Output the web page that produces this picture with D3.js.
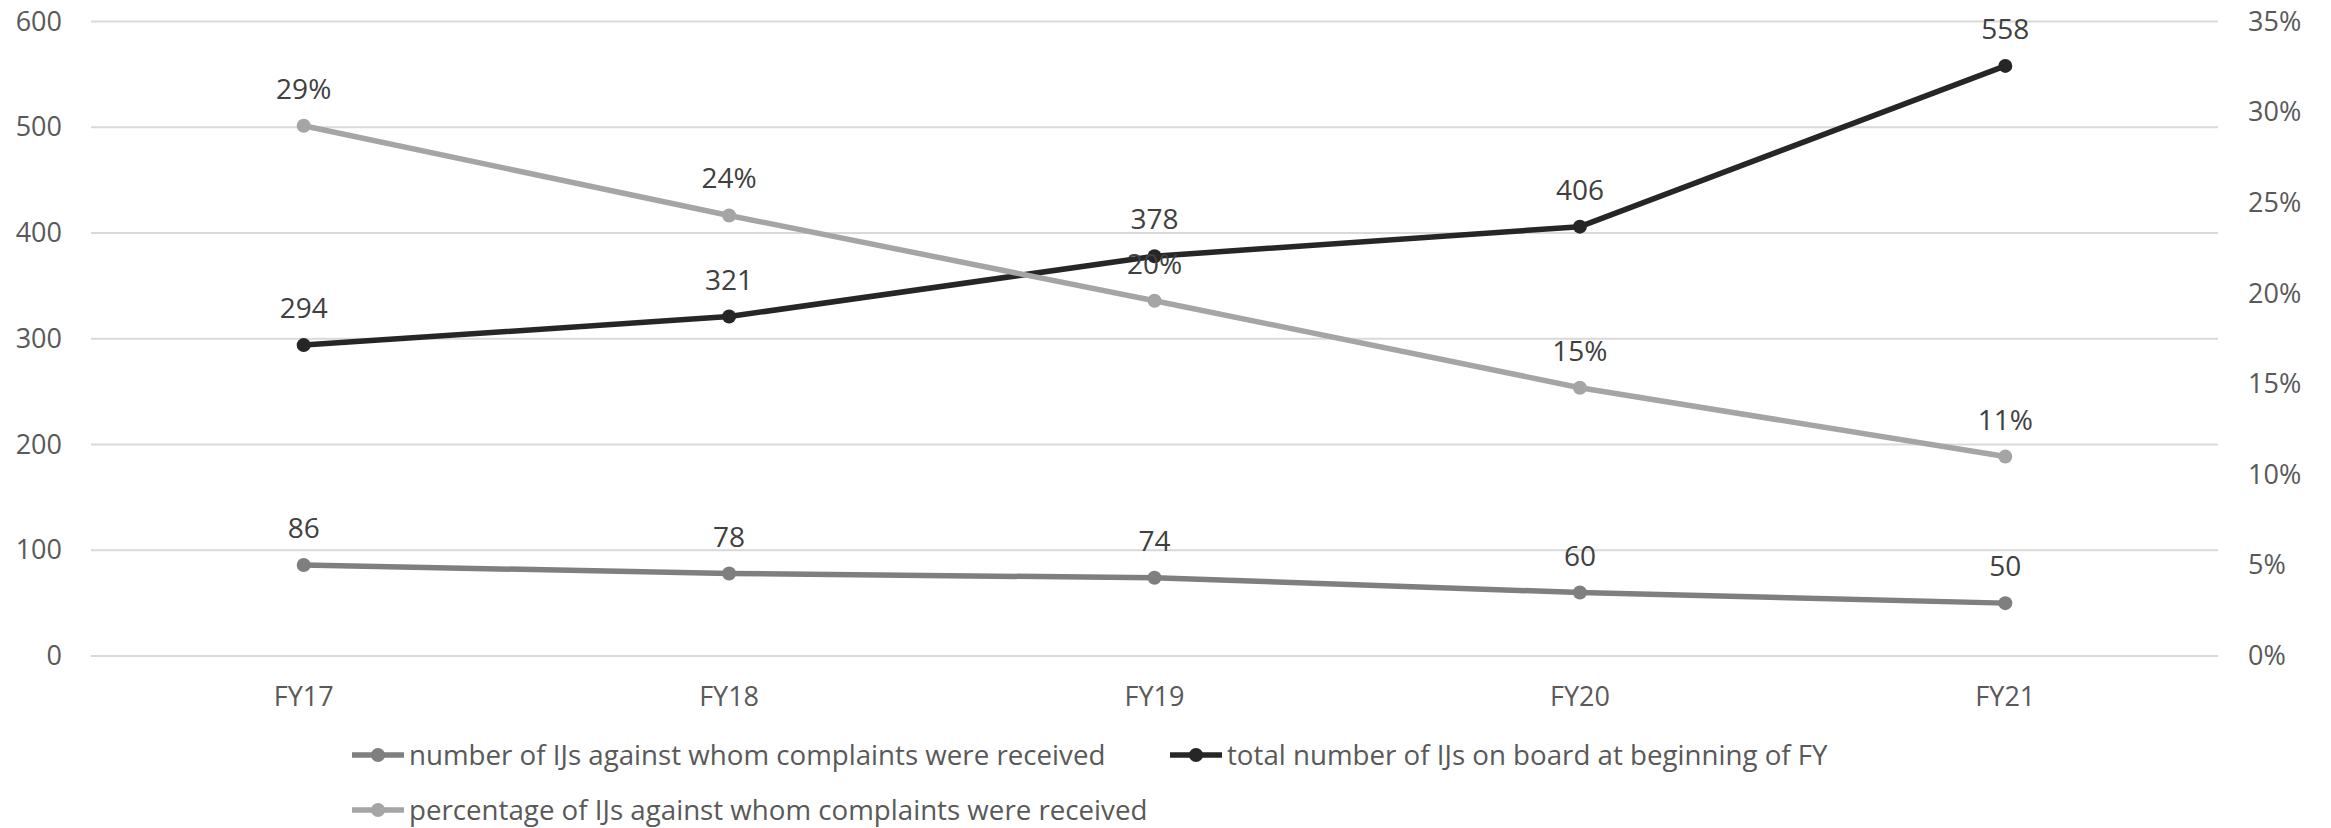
<!DOCTYPE html>
<html>
<head>
<meta charset="utf-8">
<script src="https://cdn.jsdelivr.net/npm/d3@7"></script>
<style>
  body { margin: 0; background: #fff; }
  text { font-family: "Open Sans", sans-serif; }
</style>
</head>
<body>
<script>
var categories = ["FY17", "FY18", "FY19", "FY20", "FY21"];
var complaints = [86, 78, 74, 60, 50];
var totalIJs = [294, 321, 378, 406, 558];
var pctComplaints = [0.2925, 0.243, 0.196, 0.148, 0.11];
var pctLabels = ["29%", "24%", "20%", "15%", "11%"];
var leftTicks = [0, 100, 200, 300, 400, 500, 600];
var rightTicks = [0, 0.05, 0.10, 0.15, 0.20, 0.25, 0.30, 0.35];

var W = 2331, H = 828;
var plotLeft = 91, plotRight = 2218, plotTop = 21.5, plotBottom = 656;

var svg = d3.select("body").append("svg")
    .attr("width", W)
    .attr("height", H);

var x = d3.scaleBand().domain(categories).range([plotLeft, plotRight]);
var yL = d3.scaleLinear().domain([0, 600]).range([plotBottom, plotTop]);
var yR = d3.scaleLinear().domain([0, 0.35]).range([plotBottom, plotTop]);
function cx(d, i) { return x(categories[i]) + x.bandwidth() / 2; }

//****************************** Grid ******************************
svg.append("g").selectAll("line")
    .data(leftTicks)
    .enter().append("line")
      .attr("x1", plotLeft).attr("x2", plotRight)
      .attr("y1", function(d){ return yL(d); })
      .attr("y2", function(d){ return yL(d); })
      .style("stroke", "#d9d9d9")
      .style("stroke-width", 2);

//****************************** Axes ******************************
var axL = svg.append("g")
    .attr("transform", "translate(" + (plotLeft - 29) + ",0)")
    .call(d3.axisLeft(yL).tickValues(leftTicks).tickSize(0).tickPadding(0));
var axR = svg.append("g")
    .attr("transform", "translate(" + (plotRight + 30) + ",0)")
    .call(d3.axisRight(yR).tickValues(rightTicks).tickSize(0).tickPadding(0)
          .tickFormat(d3.format(".0%")));
var axX = svg.append("g")
    .attr("transform", "translate(0," + plotBottom + ")")
    .call(d3.axisBottom(x).tickSize(0).tickPadding(31));
[axL, axR, axX].forEach(function(g){
  g.select(".domain").remove();
  g.selectAll("text")
    .style("font-family", "'Open Sans', sans-serif")
    .style("font-size", "27px")
    .style("fill", "#595959");
});

//****************************** Series ******************************
var series = [
  { name: "number of IJs against whom complaints were received", vals: complaints, y: yL, color: "#7f7f7f",
    label: function(d){ return d; } },
  { name: "total number of IJs on board at beginning of FY", vals: totalIJs, y: yL, color: "#262626",
    label: function(d){ return d; } },
  { name: "percentage of IJs against whom complaints were received", vals: pctComplaints, y: yR, color: "#a5a5a5",
    label: function(d, i){ return pctLabels[i]; } }
];

series.forEach(function(s){
  var line = d3.line().x(cx).y(function(d){ return s.y(d); });
  svg.append("path")
    .datum(s.vals)
    .attr("d", line)
    .style("fill", "none")
    .style("stroke", s.color)
    .style("stroke-width", 5.5)
    .style("stroke-linejoin", "round");
  svg.append("g").selectAll("circle")
    .data(s.vals)
    .enter().append("circle")
      .attr("cx", cx)
      .attr("cy", function(d){ return s.y(d); })
      .attr("r", 7)
      .style("fill", s.color);
});

series.forEach(function(s){
  svg.append("g").selectAll("text")
    .data(s.vals)
    .enter().append("text")
      .attr("text-anchor", "middle")
      .attr("x", cx)
      .attr("y", function(d){ return s.y(d) - 27; })
      .text(s.label)
      .style("font-size", "28px")
      .style("fill", "#404040");
});

//****************************** Legend ******************************
var legendPos = [[352, 755], [1170, 755], [352, 810]];
var lg = svg.append("g").selectAll("g")
    .data(series)
    .enter().append("g")
      .attr("transform", function(d, i){ return "translate(" + legendPos[i][0] + "," + legendPos[i][1] + ")"; });
lg.append("line")
    .attr("x1", 0).attr("x2", 52)
    .style("stroke", function(d){ return d.color; })
    .style("stroke-width", 5.5);
lg.append("circle")
    .attr("cx", 26).attr("r", 7)
    .style("fill", function(d){ return d.color; });
lg.append("text")
    .attr("x", 57)
    .attr("dy", "0.35em")
    .text(function(d){ return d.name; })
    .style("font-size", "27.7px")
    .style("fill", "#595959");
</script>
</body>
</html>
